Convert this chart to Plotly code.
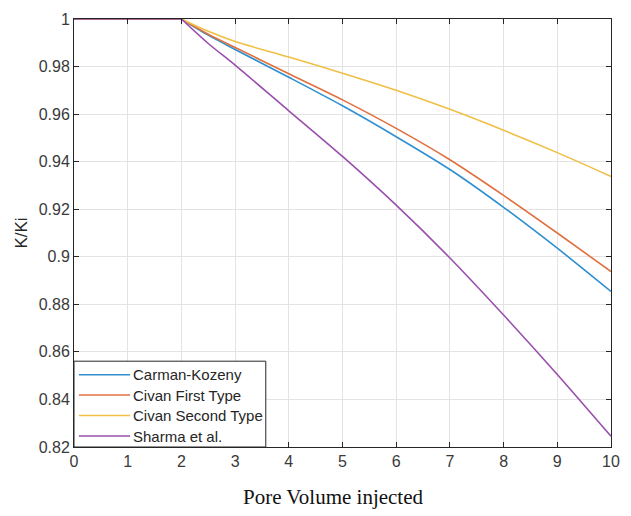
import plotly.graph_objects as go

# Pore volume injected (x) and K/Ki values
pv = [0, 1, 2, 2.5, 3, 4, 5, 6, 7, 8, 9, 10]

carman_kozeny = [1, 1, 1, 0.9932, 0.9872, 0.9755, 0.9635, 0.9505, 0.9367, 0.9208, 0.9036, 0.8854]
civan_first = [1, 1, 1, 0.9936, 0.9880, 0.9770, 0.9660, 0.9540, 0.9408, 0.9258, 0.9100, 0.8938]
civan_second = [1, 1, 1, 0.9948, 0.9905, 0.9840, 0.9772, 0.9700, 0.9620, 0.9532, 0.9438, 0.9338]
sharma = [1, 1, 1, 0.9897, 0.9806, 0.9614, 0.9422, 0.9217, 0.8995, 0.8755, 0.8505, 0.8245]

series_names = ["Carman-Kozeny", "Civan First Type", "Civan Second Type", "Sharma et al."]
series_values = [carman_kozeny, civan_first, civan_second, sharma]
series_colors = ["#2f8fd0", "#e0703f", "#f0bf45", "#9a4fae"]

x_ticks = list(range(0, 11))
y_ticks = [0.82, 0.84, 0.86, 0.88, 0.9, 0.92, 0.94, 0.96, 0.98, 1]
y_tick_labels = ["0.82", "0.84", "0.86", "0.88", "0.9", "0.92", "0.94", "0.96", "0.98", "1"]

onset = pv.index(2)  # plateau ends at PV = 2

fig = go.Figure()
# declining parts (smooth curves)
for name, vals, col in zip(series_names, series_values, series_colors):
    fig.add_trace(go.Scatter(x=pv[onset:], y=vals[onset:], mode="lines", name=name,
                             line=dict(color=col, width=1.6, shape="spline", smoothing=0.8),
                             showlegend=False))
# plateau parts
for name, vals, col in zip(series_names, series_values, series_colors):
    fig.add_trace(go.Scatter(x=pv[:onset + 1], y=vals[:onset + 1], mode="lines", name=name,
                             line=dict(color=col, width=1.6), showlegend=False))

tick_font = dict(family="Liberation Sans, Arial", size=16, color="#3a3a3a")
axis_common = dict(
    showline=True, linecolor="#262626", linewidth=1, mirror="ticks",
    ticks="inside", ticklen=5, tickcolor="#262626",
    showgrid=True, gridcolor="#e3e3e3", gridwidth=1, zeroline=False,
    tickfont=tick_font,
)

fig.update_xaxes(range=[0, 10], tickvals=x_ticks, **axis_common)
fig.update_yaxes(range=[0.82, 1], tickvals=y_ticks, ticktext=y_tick_labels,
                 title=dict(text="K/Ki", font=dict(family="Liberation Sans, Arial", size=17, color="#262626"),
                            standoff=6),
                 **axis_common)

fig.add_annotation(text="Pore Volume injected", xref="paper", yref="paper",
                   x=0.4835, y=-0.1166, xanchor="center", yanchor="middle", showarrow=False,
                   font=dict(family="Liberation Serif, Times New Roman", size=21, color="#111111"))

# legend box drawn like the MATLAB one (line samples + labels)
plot_w, plot_h = 546.0, 429.0
shapes = [dict(type="rect", xref="paper", yref="paper", x0=0, x1=195 / plot_w, y0=0, y1=86 / plot_h,
               line=dict(color="#262626", width=1), fillcolor="white", layer="above")]
row_px = [72.5, 52.0, 31.5, 11.0]  # distance of each legend row above the x-axis, px
for name, col, r in zip(series_names, series_colors, row_px):
    yp = r / plot_h
    shapes.append(dict(type="line", xref="paper", yref="paper", x0=5 / plot_w, x1=57 / plot_w,
                       y0=yp, y1=yp, line=dict(color=col, width=1.5), layer="above"))
    fig.add_annotation(text=name, xref="paper", yref="paper", x=57.5 / plot_w, y=yp,
                       xanchor="left", yanchor="middle", showarrow=False,
                       font=dict(family="Liberation Sans, Arial", size=15, color="#262626"))

fig.update_layout(
    width=631, height=516,
    margin=dict(l=74, r=11, t=18, b=69),
    paper_bgcolor="white", plot_bgcolor="white",
    showlegend=False,
    shapes=shapes,
)

fig.write_html("out.html")
